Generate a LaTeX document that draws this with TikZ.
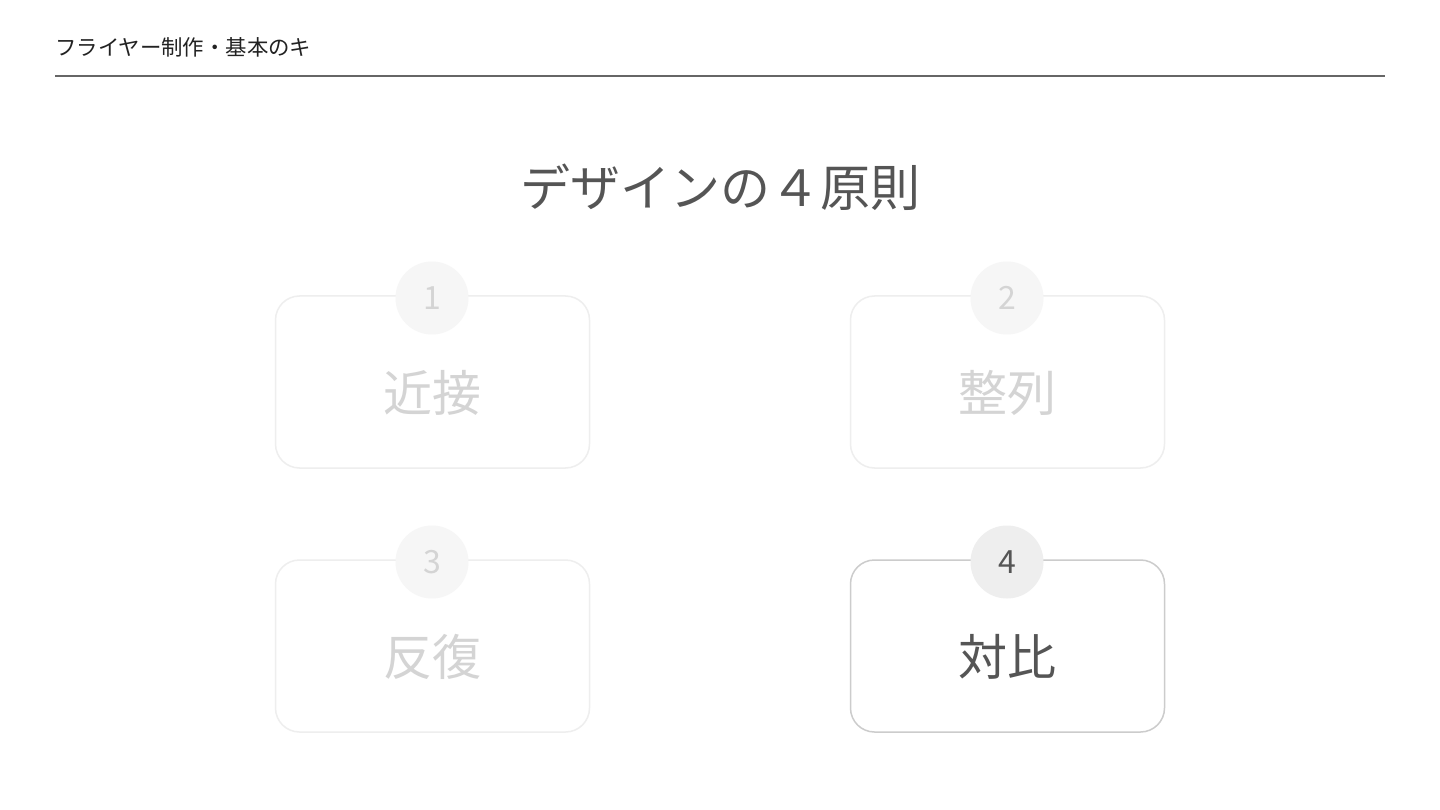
\documentclass[tikz,border=0pt]{standalone}
\usepackage{fontspec}
\setmainfont{Noto Sans CJK JP}
\newfontfamily\jp{Noto Sans CJK JP}
\definecolor{hdr}{HTML}{222222}
\definecolor{rule}{HTML}{666666}
\definecolor{ttl}{HTML}{555555}
\definecolor{fadeline}{HTML}{EEEEEE}
\definecolor{fadefill}{HTML}{F6F6F6}
\definecolor{fadetext}{HTML}{D4D4D4}
\definecolor{actline}{HTML}{CCCCCC}
\definecolor{actfill}{HTML}{EEEEEE}
\definecolor{acttext}{HTML}{555555}
\tikzset{
  card/.style={draw=fadeline, line width=1.5pt, rounded corners=24pt, fill=white, minimum width=314pt, minimum height=172pt, inner sep=0pt},
  cardact/.style={card, draw=actline},
  badge/.style={circle, fill=fadefill, minimum size=73pt, inner sep=0pt, text=fadetext, font=\jp\fontsize{32}{36}\selectfont},
  badgeact/.style={badge, fill=actfill, text=acttext},
  word/.style={text=fadetext, font=\jp\fontsize{49}{56}\selectfont, inner sep=0pt},
  wordact/.style={word, text=acttext}
}
\begin{document}
\begin{tikzpicture}[x=1pt,y=-1pt]
\useasboundingbox (0,0) rectangle (1440,810);
\fill[white] (0,0) rectangle (1440,810);
\node[anchor=base west, inner sep=0pt, text=hdr, font=\jp\fontsize{21.4}{25}\selectfont] (hdr) at (55,56) {フライヤー制作・基本のキ};
\coordinate (r1) at (55,76);
\coordinate (r2) at (1385,76);
\draw[rule, line width=1.8pt] (r1) -- (r2);
\node[text=ttl, font=\jp\fontsize{50}{58}\selectfont, inner sep=0pt] (title) at (720,187) {デザインの４原則};
% cards
\node[card] (c1) at (432.5,382) {};
\node[card] (c2) at (1007.5,382) {};
\node[card] (c3) at (432.5,646) {};
\node[cardact] (c4) at (1007.5,646) {};
\node[badge] (b1) at (432,298) {1};
\node[badge] (b2) at (1007,298) {2};
\node[badge] (b3) at (432,562) {3};
\node[badgeact] (b4) at (1007,562) {4};
\node[word] (w1) at (432,393) {近接};
\node[word] (w2) at (1007,393) {整列};
\node[word] (w3) at (432,657) {反復};
\node[wordact] (w4) at (1007,657) {対比};
\end{tikzpicture}
\end{document}
